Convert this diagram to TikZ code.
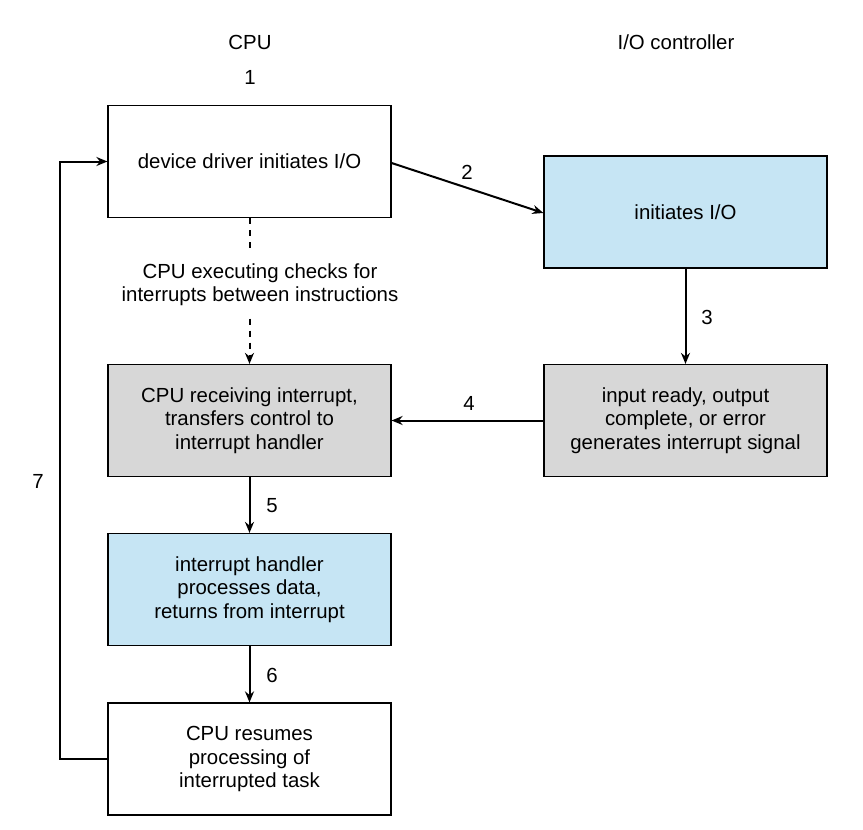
\documentclass[tikz,border=0pt]{standalone}
\usepackage{fontspec}
\setmainfont{Liberation Sans}
\usetikzlibrary{arrows.meta}
\definecolor{iblue}{HTML}{C6E5F4}
\definecolor{igray}{HTML}{D7D7D7}
\tikzset{
	box/.style={draw, line width=0.6pt, minimum width=141.5pt, minimum height=56pt, align=center, font=\fontsize{10.2}{11.8}\selectfont, inner sep=0pt},
	lbl/.style={font=\fontsize{10.2}{11.6}\selectfont, align=center},
	arr/.style={line width=1pt, -{Stealth[length=5.5pt,width=4.5pt]}}
}
\begin{document}
\begin{tikzpicture}[x=0.5pt, y=-0.5pt]
				\useasboundingbox (0,0) rectangle (863,830);
				\node[box] (drv) at (249.5, 161.5) {device driver initiates I/O};
				\node[box, fill=iblue] (init) at (685.5, 212) {initiates I/O};
				\node[box, fill=igray] (recv) at (249.5, 420.5) {CPU receiving interrupt,\\transfers control to\\interrupt handler};
				\node[box, fill=igray] (ready) at (685.5, 420.5) {input ready, output\\complete, or error\\generates interrupt signal};
				\node[box, fill=iblue] (hndl) at (249.5, 589.5) {interrupt handler\\processes data,\\returns from interrupt};
				\node[box] (resm) at (249.5, 759) {CPU resumes\\processing of\\interrupted task};
				\node[lbl] (cpu) at (250, 42) {CPU};
				\node[lbl] (ioc) at (676, 42) {I/O controller};
				\node[lbl] (n1) at (250, 77) {1};
				\node[lbl] (n2) at (467, 172) {2};
				\node[lbl] (n3) at (707, 317) {3};
				\node[lbl] (n4) at (469, 403) {4};
				\node[lbl] (n5) at (272, 506) {5};
				\node[lbl] (n6) at (272, 675) {6};
				\node[lbl] (n7) at (38, 481) {7};
				\node[lbl, inner sep=6pt] (chk) at (260, 285) {CPU executing checks for\\interrupts between instructions};
				\coordinate (c1) at (60, 759);
				\coordinate (c2) at (60, 161.5);
				\draw[arr] (drv.east |- 0,163) to (init.west |- 0,213);
				\draw[line width=1pt, dashed] (drv.south) to (drv.south |- chk.north);
				\draw[arr, dashed] (drv.south |- chk.south) to (recv.north);
				\draw[arr] (init) to (ready);
				\draw[arr] (ready) to (recv);
				\draw[arr] (recv) to (hndl);
				\draw[arr] (hndl) to (resm);
				\draw[arr] (resm.west) -- (c1) -- (c2) -- (drv.west);
			\end{tikzpicture}
\end{document}
